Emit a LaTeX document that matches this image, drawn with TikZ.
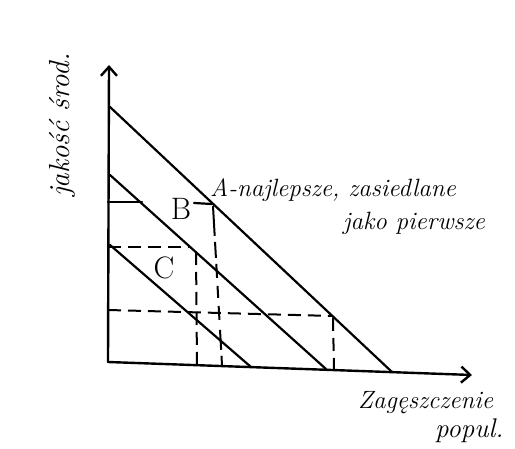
\documentclass[tikz,border=0pt]{standalone}
\usetikzlibrary{arrows.meta}
\begin{document}
\begin{tikzpicture}[x=1pt,y=-1pt,
  ax/.style={line width=2.4pt, line cap=round, -{Straight Barb[length=9pt,width=16pt,line width=2.4pt]}},
  ln/.style={line width=2.2pt, line cap=round},
  dsh/.style={line width=2pt, dash pattern=on 13pt off 7pt},
  hw/.style={font=\fontsize{25}{28}\selectfont\itshape, inner sep=0pt},
  lbl/.style={font=\fontsize{31}{31}\selectfont, inner sep=0pt}]
\useasboundingbox (0,0) rectangle (515,449);
\fill[white] (0,0) rectangle (515,449);
% axes
\coordinate (O) at (108,362);
\coordinate (Ytop) at (109,65);
\coordinate (Xend) at (472,375);
\draw[ax] (O) -- (Ytop);
\draw[ax] (O) -- (Xend);
% lines A, B, C
\coordinate (A1) at (110,107); \coordinate (A2) at (392,372);
\coordinate (B1) at (110,175); \coordinate (B2) at (326,369);
\coordinate (C1) at (110,245); \coordinate (C2) at (251,367);
\draw[ln] (A1) -- (A2);
\draw[ln] (B1) -- (B2);
\draw[ln] (C1) -- (C2);
% B level
\coordinate (hB0) at (108,202); \coordinate (hB1) at (142,202);
\coordinate (hB2) at (194,203); \coordinate (hB3) at (212,204);
\coordinate (vA0) at (213,206); \coordinate (vA1) at (222,365);
\draw[ln] (hB0) -- (hB1);
\draw[ln] (hB2) -- (hB3);
\draw[dsh, dash pattern=on 30pt off 6pt on 16pt off 6pt on 14pt off 8pt on 12pt off 8pt on 14pt off 10pt on 20pt off 6pt] (vA0) -- (vA1);
% C level
\coordinate (hC0) at (108,247); \coordinate (hC1) at (189,247);
\coordinate (vC0) at (196,252); \coordinate (vC1) at (197,366);
\draw[dsh] (hC0) -- (hC1);
\draw[dsh] (vC0) -- (vC1);
% lower level
\coordinate (hL0) at (108,310); \coordinate (hL1) at (333,316);
\coordinate (vL0) at (333,318); \coordinate (vL1) at (334,370);
\draw[dsh] (hL0) -- (hL1);
\draw[dsh] (vL0) -- (vL1);
% labels
\node[lbl] (labB) at (181,209) {B};
\node[lbl] (labC) at (164,268) {C};
\node[hw, anchor=base west] (labA) at (210,197) {A-najlepsze, zasiedlane};
\node[hw, anchor=base west] (labA2) at (343,230) {jako pierwsze};
\node[hw, anchor=base west, font=\fontsize{25}{28}\selectfont\itshape] (labX) at (358,409) {Zagęszczenie};
\node[hw, anchor=base west, font=\fontsize{27}{30}\selectfont\itshape] (labX2) at (435,438) {popul.};
\node[hw, rotate=90, font=\fontsize{29}{30}\selectfont\itshape] (labY) at (62,125) {jakość środ.};
\end{tikzpicture}
\end{document}
